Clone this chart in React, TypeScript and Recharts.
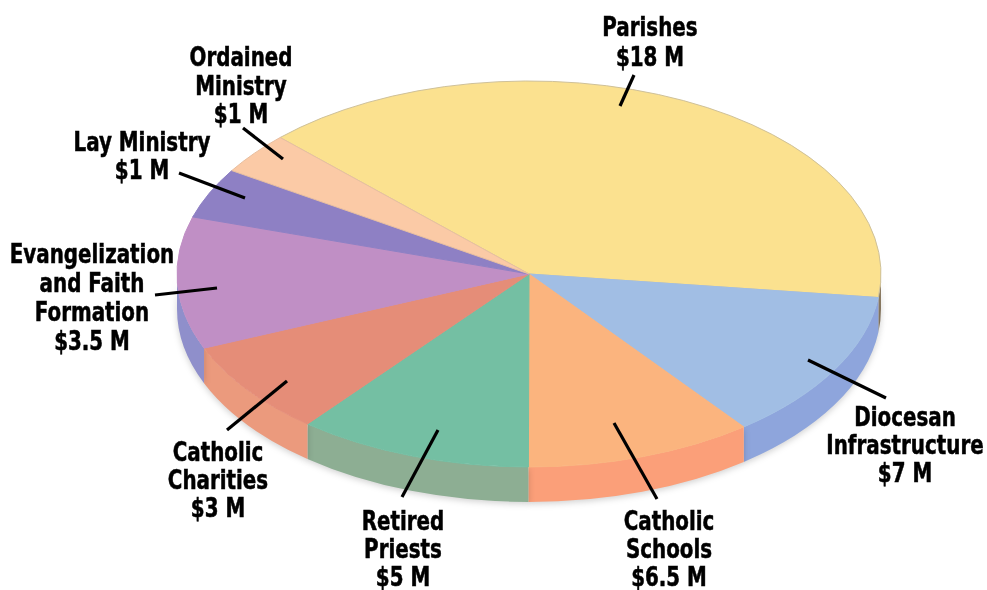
import { Pie, PieChart } from 'recharts';

// slice names and the dollar amounts printed on them, clockwise from the top
const names = [
  'Parishes',
  'Diocesan Infrastructure',
  'Catholic Schools',
  'Retired Priests',
  'Catholic Charities',
  'Evangelization and Faith Formation',
  'Lay Ministry',
  'Ordained Ministry',
];
const amounts = ['$18 M', '$7 M', '$6.5 M', '$5 M', '$3 M', '$3.5 M', '$1 M', '$1 M'];

// the slices in the picture are not drawn in proportion to the amounts,
// so these are the sweeps measured off the ellipse, in degrees
const sweeps = [142, 45.4, 37.7, 38.9, 28.4, 39.8, 15.2, 12.6];

const topColors = ['#FBE18F', '#A1BEE4', '#FBB47E', '#74BFA3', '#E58D78', '#C08FC5', '#8E80C4', '#FBCAA6'];
const wallColors = ['#8A7A62', '#8EA5DC', '#FB9F79', '#8DAE93', '#EB9A7D', '#8F8FCB', '#8E80C4', '#FBCAA6'];
const rimColors = ['#CFC199', '#A1BEE4', '#FBB47E', '#74BFA3', '#E58D78', '#C08FC5', '#8E80C4', '#E8BFA0'];

const labelLines = [
  ['Parishes', '$18 M'],
  ['Diocesan', 'Infrastructure', '$7 M'],
  ['Catholic', 'Schools', '$6.5 M'],
  ['Retired', 'Priests', '$5 M'],
  ['Catholic', 'Charities', '$3 M'],
  ['Evangelization', 'and Faith', 'Formation', '$3.5 M'],
  ['Lay Ministry', '$1 M'],
  ['Ordained', 'Ministry', '$1 M'],
];

// where each label and its leader sit: centre x, first baseline, leader x1 y1 x2 y2
const labelLayout = [
  { x: 650, y: 36, lead: [634, 75, 620, 106], gap: 30 },
  { x: 905, y: 426, lead: [808, 360, 886, 398], gap: 28 },
  { x: 669, y: 530, lead: [614, 423, 657, 499], gap: 28 },
  { x: 403, y: 530, lead: [438, 430, 402, 497], gap: 28 },
  { x: 218, y: 461, lead: [287, 381, 227, 430], gap: 28 },
  { x: 92, y: 263, lead: [155, 295, 217, 288], gap: 29 },
  { x: 142, y: 151, lead: [179, 173, 245, 198], gap: 28 },
  { x: 241, y: 66, lead: [243, 128, 283, 159], gap: 28.5 },
];

const pieData = names.map((name, i) => ({
  name,
  amount: amounts[i],
  sweep: sweeps[i],
  fill: topColors[i],
  wall: wallColors[i],
  rim: rimColors[i],
}));

const RX = 352;
const RY = 193;
const DEPTH = 35;

function rimPoint(cx: number, cy: number, deg: number) {
  const a = (deg * Math.PI) / 180;
  return [cx + RX * Math.cos(a), cy - RY * Math.sin(a)];
}

// top face of a slice, flattened to an ellipse
function TopSlice(props: any) {
  const { cx, cy, startAngle, endAngle, fill, rim } = props;
  const [x1, y1] = rimPoint(cx, cy, startAngle);
  const [x2, y2] = rimPoint(cx, cy, endAngle);
  const large = startAngle - endAngle > 180 ? 1 : 0;
  const d = `M${cx},${cy} L${x1},${y1} A${RX},${RY} 0 ${large} 1 ${x2},${y2} Z`;
  return <path d={d} fill={fill} stroke={rim} strokeWidth={1} />;
}

// side wall, only the part on the near half of the ellipse shows
function WallSlice(props: any) {
  const { cx, cy, startAngle, endAngle, wall } = props;
  const hi = Math.min(startAngle, 0);
  const lo = Math.max(endAngle, -180);
  if (hi <= lo) return null;
  const [x1, y1] = rimPoint(cx, cy, hi);
  const [x2, y2] = rimPoint(cx, cy, lo);
  const d =
    `M${x1},${y1} A${RX},${RY} 0 0 1 ${x2},${y2} L${x2},${y2 + DEPTH} ` +
    `A${RX},${RY} 0 0 0 ${x1},${y1 + DEPTH} Z`;
  return <path d={d} fill={wall} style={{ filter: 'drop-shadow(0 2px 3px rgba(0,0,0,0.18))' }} />;
}

function SliceLabel(props: any) {
  const { index } = props;
  const place = labelLayout[index];
  const [x1, y1, x2, y2] = place.lead;
  return (
    <g>
      <line x1={x1} y1={y1} x2={x2} y2={y2} stroke="#000" strokeWidth={3.2} />
      {labelLines[index].map((line, i) => (
        <text
          key={i}
          transform={`translate(${place.x},${place.y + i * place.gap}) scale(0.85,1)`}
          textAnchor="middle"
          fontFamily="'DejaVu Sans Condensed', 'DejaVu Sans'"
          fontWeight="bold"
          fontSize={26}
          fill="#000"
          stroke="#000"
          strokeWidth={0.5}
        >
          {line}
        </text>
      ))}
    </g>
  );
}

export default function App() {
  return (
    <div style={{ position: 'absolute', left: 0, top: 0, width: 987, height: 590, background: '#fff', filter: 'blur(0.6px)' }}>
      <PieChart width={987} height={590} margin={{ top: 0, right: 0, bottom: 0, left: 0 }}>
        <Pie
          data={pieData}
          dataKey="sweep"
          cx={529}
          cy={274}
          outerRadius={352}
          startAngle={135}
          endAngle={-225}
          stroke="none"
          shape={WallSlice}
          isAnimationActive={false}
        />
        <Pie
          data={pieData}
          dataKey="sweep"
          cx={529}
          cy={274}
          outerRadius={352}
          startAngle={135}
          endAngle={-225}
          stroke="none"
          shape={TopSlice}
          label={SliceLabel}
          labelLine={false}
          isAnimationActive={false}
        />
      </PieChart>
    </div>
  );
}
